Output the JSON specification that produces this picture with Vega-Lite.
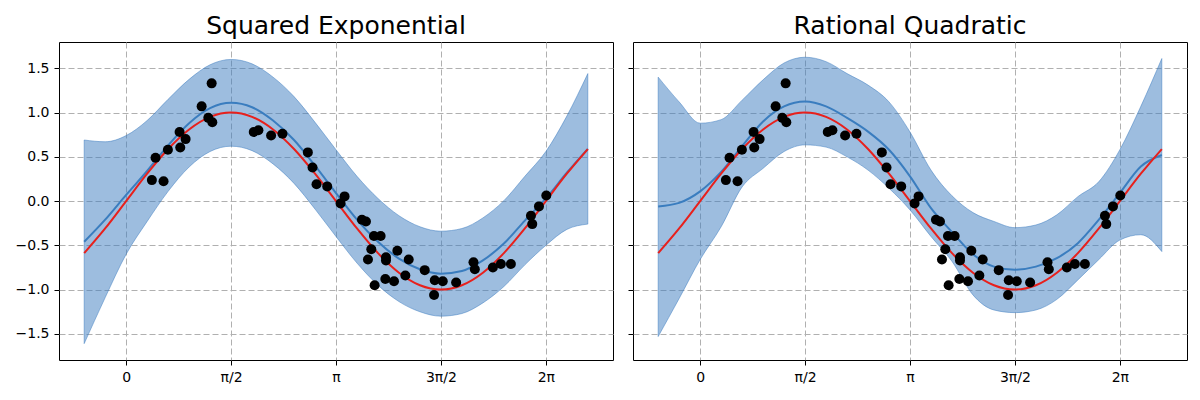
{
  "$schema": "https://vega.github.io/schema/vega-lite/v6.json",
  "background": "white",
  "padding": {"left": 14, "top": 13, "right": 5, "bottom": 2},
  "bounds": "flush",
  "spacing": 20,
  "config": {
    "font": "DejaVu Sans",
    "view": {"stroke": "black", "strokeWidth": 1},
    "axis": {
      "domain": false,
      "grid": true,
      "gridColor": "#b0b0b0",
      "gridDash": [6, 3],
      "gridWidth": 1,
      "ticks": true,
      "tickColor": "black",
      "tickSize": 5,
      "tickWidth": 1,
      "labelFont": "DejaVu Sans",
      "labelFontSize": 14,
      "labelColor": "black",
      "labelPadding": 5,
      "title": null
    },
    "title": {"font": "DejaVu Sans", "fontSize": 25, "fontWeight": "normal", "color": "black", "anchor": "middle", "offset": 3}
  },
  "datasets": {
    "curves": [
      {"x": -0.6283, "f": -0.5878, "se_m": -0.46, "se_lo": -1.61, "se_hi": 0.69, "rq_m": -0.06, "rq_lo": -1.53, "rq_hi": 1.40},
      {"x": -0.3142, "f": -0.3090, "se_m": -0.21, "se_lo": -1.09, "se_hi": 0.67, "rq_m": -0.02, "rq_lo": -1.10, "rq_hi": 1.12},
      {"x": 0.0, "f": 0.0, "se_m": 0.07, "se_lo": -0.60, "se_hi": 0.74, "rq_m": 0.11, "rq_lo": -0.66, "rq_hi": 0.88},
      {"x": 0.3142, "f": 0.3090, "se_m": 0.34, "se_lo": -0.23, "se_hi": 0.91, "rq_m": 0.33, "rq_lo": -0.29, "rq_hi": 0.92},
      {"x": 0.6283, "f": 0.5878, "se_m": 0.63, "se_lo": 0.11, "se_hi": 1.15, "rq_m": 0.62, "rq_lo": 0.16, "rq_hi": 1.14},
      {"x": 0.9425, "f": 0.8090, "se_m": 0.88, "se_lo": 0.385, "se_hi": 1.375, "rq_m": 0.90, "rq_lo": 0.37, "rq_hi": 1.37},
      {"x": 1.2566, "f": 0.9511, "se_m": 1.05, "se_lo": 0.56, "se_hi": 1.54, "rq_m": 1.07, "rq_lo": 0.56, "rq_hi": 1.56},
      {"x": 1.5708, "f": 1.0, "se_m": 1.11, "se_lo": 0.62, "se_hi": 1.60, "rq_m": 1.125, "rq_lo": 0.635, "rq_hi": 1.625},
      {"x": 1.8850, "f": 0.9511, "se_m": 1.06, "se_lo": 0.57, "se_hi": 1.55, "rq_m": 1.07, "rq_lo": 0.61, "rq_hi": 1.575},
      {"x": 2.1991, "f": 0.8090, "se_m": 0.91, "se_lo": 0.42, "se_hi": 1.40, "rq_m": 0.94, "rq_lo": 0.50, "rq_hi": 1.44},
      {"x": 2.5133, "f": 0.5878, "se_m": 0.69, "se_lo": 0.20, "se_hi": 1.18, "rq_m": 0.785, "rq_lo": 0.35, "rq_hi": 1.31},
      {"x": 2.8274, "f": 0.3090, "se_m": 0.40, "se_lo": -0.09, "se_hi": 0.89, "rq_m": 0.58, "rq_lo": 0.145, "rq_hi": 1.12},
      {"x": 3.1416, "f": 0.0, "se_m": 0.09, "se_lo": -0.40, "se_hi": 0.58, "rq_m": 0.28, "rq_lo": -0.10, "rq_hi": 0.78},
      {"x": 3.4558, "f": -0.3090, "se_m": -0.21, "se_lo": -0.70, "se_hi": 0.28, "rq_m": -0.08, "rq_lo": -0.40, "rq_hi": 0.35},
      {"x": 3.7699, "f": -0.5878, "se_m": -0.46, "se_lo": -0.95, "se_hi": 0.03, "rq_m": -0.35, "rq_lo": -0.68, "rq_hi": 0.06},
      {"x": 4.0841, "f": -0.8090, "se_m": -0.65, "se_lo": -1.135, "se_hi": -0.165, "rq_m": -0.60, "rq_lo": -1.06, "rq_hi": -0.13},
      {"x": 4.3982, "f": -0.9511, "se_m": -0.77, "se_lo": -1.25, "se_hi": -0.29, "rq_m": -0.74, "rq_lo": -1.23, "rq_hi": -0.23},
      {"x": 4.7124, "f": -1.0, "se_m": -0.82, "se_lo": -1.30, "se_hi": -0.34, "rq_m": -0.775, "rq_lo": -1.26, "rq_hi": -0.30},
      {"x": 5.0265, "f": -0.9511, "se_m": -0.79, "se_lo": -1.27, "se_hi": -0.31, "rq_m": -0.74, "rq_lo": -1.23, "rq_hi": -0.27},
      {"x": 5.3407, "f": -0.8090, "se_m": -0.67, "se_lo": -1.15, "se_hi": -0.19, "rq_m": -0.645, "rq_lo": -1.11, "rq_hi": -0.155},
      {"x": 5.6549, "f": -0.5878, "se_m": -0.48, "se_lo": -0.965, "se_hi": 0.005, "rq_m": -0.475, "rq_lo": -0.89, "rq_hi": 0.05},
      {"x": 5.9690, "f": -0.3090, "se_m": -0.22, "se_lo": -0.72, "se_hi": 0.28, "rq_m": -0.21, "rq_lo": -0.66, "rq_hi": 0.22},
      {"x": 6.2832, "f": 0.0, "se_m": 0.03, "se_lo": -0.50, "se_hi": 0.56, "rq_m": 0.09, "rq_lo": -0.44, "rq_hi": 0.58},
      {"x": 6.5973, "f": 0.3090, "se_m": 0.32, "se_lo": -0.32, "se_hi": 0.96, "rq_m": 0.39, "rq_lo": -0.38, "rq_hi": 1.07},
      {"x": 6.9115, "f": 0.5878, "se_m": 0.59, "se_lo": -0.26, "se_hi": 1.44, "rq_m": 0.52, "rq_lo": -0.57, "rq_hi": 1.61}
    ],
    "obs": [
      {"x": 0.385, "y": 0.237}, {"x": 0.56, "y": 0.225}, {"x": 0.44, "y": 0.49}, {"x": 0.625, "y": 0.58},
      {"x": 0.81, "y": 0.605}, {"x": 0.80, "y": 0.78}, {"x": 0.89, "y": 0.70}, {"x": 1.13, "y": 1.07},
      {"x": 1.28, "y": 1.33}, {"x": 1.23, "y": 0.94}, {"x": 1.29, "y": 0.89}, {"x": 1.91, "y": 0.78},
      {"x": 1.98, "y": 0.80}, {"x": 2.17, "y": 0.74}, {"x": 2.34, "y": 0.76}, {"x": 2.72, "y": 0.55},
      {"x": 2.79, "y": 0.38}, {"x": 2.85, "y": 0.19}, {"x": 3.01, "y": 0.166}, {"x": 3.27, "y": 0.053},
      {"x": 3.21, "y": -0.026}, {"x": 3.53, "y": -0.21}, {"x": 3.59, "y": -0.23}, {"x": 3.71, "y": -0.395},
      {"x": 3.81, "y": -0.395}, {"x": 3.67, "y": -0.545}, {"x": 3.62, "y": -0.66}, {"x": 3.72, "y": -0.95},
      {"x": 3.89, "y": -0.635}, {"x": 3.89, "y": -0.67}, {"x": 4.06, "y": -0.56}, {"x": 3.88, "y": -0.88},
      {"x": 4.01, "y": -0.905}, {"x": 4.23, "y": -0.66}, {"x": 4.18, "y": -0.84}, {"x": 4.47, "y": -0.78},
      {"x": 4.62, "y": -0.895}, {"x": 4.61, "y": -1.06}, {"x": 4.74, "y": -0.905}, {"x": 4.94, "y": -0.92},
      {"x": 5.20, "y": -0.69}, {"x": 5.22, "y": -0.77}, {"x": 5.49, "y": -0.75}, {"x": 5.61, "y": -0.71},
      {"x": 5.76, "y": -0.71}, {"x": 6.06, "y": -0.165}, {"x": 6.08, "y": -0.26}, {"x": 6.18, "y": -0.06},
      {"x": 6.29, "y": 0.064}
    ]
  },
  "hconcat": [
    {
      "width": 554,
      "height": 318,
      "title": "Squared Exponential",
      "layer": [
        {
          "data": {"name": "curves"},
          "mark": {"type": "area", "interpolate": "monotone", "fill": "#3b7cbf", "fillOpacity": 0.5, "stroke": "#3b7cbf", "strokeOpacity": 0.5, "strokeWidth": 1},
          "encoding": {
            "x": {"field": "x", "type": "quantitative", "scale": {"domain": [-1.0053, 7.2885], "nice": false, "zero": false},
              "axis": {"values": [0, 1.5707963, 3.1415927, 4.712389, 6.2831853], "labelExpr": "datum.value < 0.5 ? '0' : datum.value < 2 ? 'π/2' : datum.value < 4 ? 'π' : datum.value < 5 ? '3π/2' : '2π'"}},
            "y": {"field": "se_lo", "type": "quantitative", "scale": {"domain": [-1.795, 1.797], "nice": false, "zero": false},
              "axis": {"values": [-1.5, -1, -0.5, 0, 0.5, 1, 1.5], "labelExpr": "replace(format(datum.value, '.1f'), '-', '−')"}},
            "y2": {"field": "se_hi"}
          }
        },
        {
          "data": {"name": "curves"},
          "mark": {"type": "line", "interpolate": "monotone", "color": "#3a7dbf", "strokeWidth": 2},
          "encoding": {
            "x": {"field": "x", "type": "quantitative"},
            "y": {"field": "se_m", "type": "quantitative"}
          }
        },
        {
          "data": {"name": "curves"},
          "mark": {"type": "line", "interpolate": "monotone", "color": "#e8201c", "strokeWidth": 2},
          "encoding": {
            "x": {"field": "x", "type": "quantitative"},
            "y": {"field": "f", "type": "quantitative"}
          }
        },
        {
          "data": {"name": "obs"},
          "mark": {"type": "circle", "color": "black", "opacity": 1, "size": 100},
          "encoding": {
            "x": {"field": "x", "type": "quantitative"},
            "y": {"field": "y", "type": "quantitative"}
          }
        }
      ]
    },
    {
      "width": 554,
      "height": 318,
      "title": "Rational Quadratic",
      "layer": [
        {
          "data": {"name": "curves"},
          "mark": {"type": "area", "interpolate": "monotone", "fill": "#3b7cbf", "fillOpacity": 0.5, "stroke": "#3b7cbf", "strokeOpacity": 0.5, "strokeWidth": 1},
          "encoding": {
            "x": {"field": "x", "type": "quantitative", "scale": {"domain": [-1.0053, 7.2885], "nice": false, "zero": false},
              "axis": {"values": [0, 1.5707963, 3.1415927, 4.712389, 6.2831853], "labelExpr": "datum.value < 0.5 ? '0' : datum.value < 2 ? 'π/2' : datum.value < 4 ? 'π' : datum.value < 5 ? '3π/2' : '2π'"}},
            "y": {"field": "rq_lo", "type": "quantitative", "scale": {"domain": [-1.795, 1.797], "nice": false, "zero": false},
              "axis": {"values": [-1.5, -1, -0.5, 0, 0.5, 1, 1.5], "labels": false}},
            "y2": {"field": "rq_hi"}
          }
        },
        {
          "data": {"name": "curves"},
          "mark": {"type": "line", "interpolate": "monotone", "color": "#3a7dbf", "strokeWidth": 2},
          "encoding": {
            "x": {"field": "x", "type": "quantitative"},
            "y": {"field": "rq_m", "type": "quantitative"}
          }
        },
        {
          "data": {"name": "curves"},
          "mark": {"type": "line", "interpolate": "monotone", "color": "#e8201c", "strokeWidth": 2},
          "encoding": {
            "x": {"field": "x", "type": "quantitative"},
            "y": {"field": "f", "type": "quantitative"}
          }
        },
        {
          "data": {"name": "obs"},
          "mark": {"type": "circle", "color": "black", "opacity": 1, "size": 100},
          "encoding": {
            "x": {"field": "x", "type": "quantitative"},
            "y": {"field": "y", "type": "quantitative"}
          }
        }
      ]
    }
  ]
}
